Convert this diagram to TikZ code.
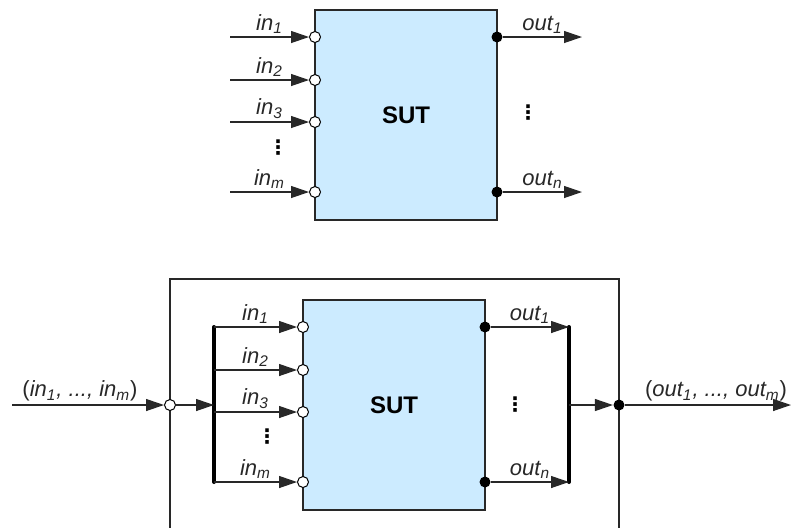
\documentclass[tikz,border=0pt]{standalone}
\usepackage{fontspec}
\setmainfont{Liberation Sans}
\newfontfamily\symfont{DejaVu Sans}
\usepackage{xcolor}
\usepackage{tikz}
\definecolor{sutcolor}{RGB}{204, 235, 255}
\definecolor{linecolor}{RGB}{40, 40, 40}
\usetikzlibrary{arrows.meta, positioning}
\newcommand{\portlbl}[2]{#1\textsubscript{#2}}

\begin{document}
\begin{tikzpicture}[
    x=0.5pt, y=-0.5pt,
    line width=0.6pt,
    sutbox/.style={rectangle, draw=linecolor, fill=sutcolor, minimum width=91pt, minimum height=105pt, inner sep=0pt, font=\bfseries\fontsize{12}{14}\selectfont},
    framebox/.style={rectangle, draw=linecolor, minimum width=224.5pt, minimum height=130.5pt, inner sep=0pt},
    inport/.style={circle, draw=black, fill=white, inner sep=0pt, minimum size=5.5pt, line width=0.5pt},
    outport/.style={circle, fill=black, inner sep=0pt, minimum size=5.5pt},
    arrow/.style={-{Triangle[length=9pt, width=6pt]}, linecolor},
    bus/.style={line width=2pt, line cap=round},
    lbl/.style={font=\itshape\fontsize{11}{13}\selectfont, inner sep=1.5pt},
    vdot/.style={inner sep=0pt, font=\symfont\bfseries\fontsize{10}{11}\selectfont}
]
    \useasboundingbox (0,0) rectangle (792,527);

    % Top: system under test
    \node[sutbox] (sut) at (406,115) {SUT};

    % Top inputs
    \foreach \y/\n/\i in {37/1/1, 80/2/2, 122/3/3, 192/m/4} {
        \coordinate (s\i) at (230,\y);
        \node[inport] (in\i) at (315,\y) {};
        \draw[arrow] (s\i) -- node[lbl, above] {\portlbl{in}{\n}} (in\i.west);
    }
    \node[vdot] at (278,148) {⋮};

    % Top outputs
    \foreach \y/\n/\i in {37/1/1, 192/n/2} {
        \node[outport] (out\i) at (497,\y) {};
        \coordinate (e\i) at (582,\y);
        \draw[arrow] (out\i) -- node[lbl, above] {\portlbl{out}{\n}} (e\i);
    }
    \node[vdot] at (528,113) {⋮};

    % Bottom: wrapped SUT
    \node[framebox] (frame) at (394.5,409.5) {};
    \node[sutbox] (sutw) at (394,405) {SUT};

    % Input bus
    \coordinate (busl1) at (214,327);
    \coordinate (busl2) at (214,482);
    \draw[bus] (busl1) -- (busl2);
    \coordinate (src) at (12,405);
    \node[inport] (inall) at (170,405) {};
    \coordinate (buslm) at (214,405);
    \draw[arrow] (src) -- node[lbl, above, xshift=-4pt] {\textup{(}\portlbl{in}{1}, ..., \portlbl{in}{m}\textup{)}} (inall.west);
    \draw[arrow] (inall) -- (buslm);
    \foreach \y/\n/\i in {327/1/1, 370/2/2, 412/3/3, 482/m/4} {
        \coordinate (b\i) at (214,\y);
        \node[inport] (inw\i) at (303,\y) {};
        \draw[arrow] (b\i) -- node[lbl, above] {\portlbl{in}{\n}} (inw\i.west);
    }
    \node[vdot] at (267,437) {⋮};

    % Output bus
    \coordinate (busr1) at (569,327);
    \coordinate (busr2) at (569,482);
    \draw[bus] (busr1) -- (busr2);
    \foreach \y/\n/\i in {327/1/1, 482/n/2} {
        \node[outport] (outw\i) at (485,\y) {};
        \coordinate (c\i) at (569,\y);
        \draw[arrow] (outw\i) -- node[lbl, above] {\portlbl{out}{\n}} (c\i);
    }
    \node[vdot] at (515,405) {⋮};
    \coordinate (busrm) at (569,405);
    \node[outport] (outall) at (619,405) {};
    \coordinate (sink) at (791,405);
    \draw[arrow] (busrm) -- (outall.west);
    \draw[arrow] (outall) -- node[lbl, above, xshift=4pt] {\textup{(}\portlbl{out}{1}, ..., \portlbl{out}{m}\textup{)}} (sink);
\end{tikzpicture}
\end{document}
